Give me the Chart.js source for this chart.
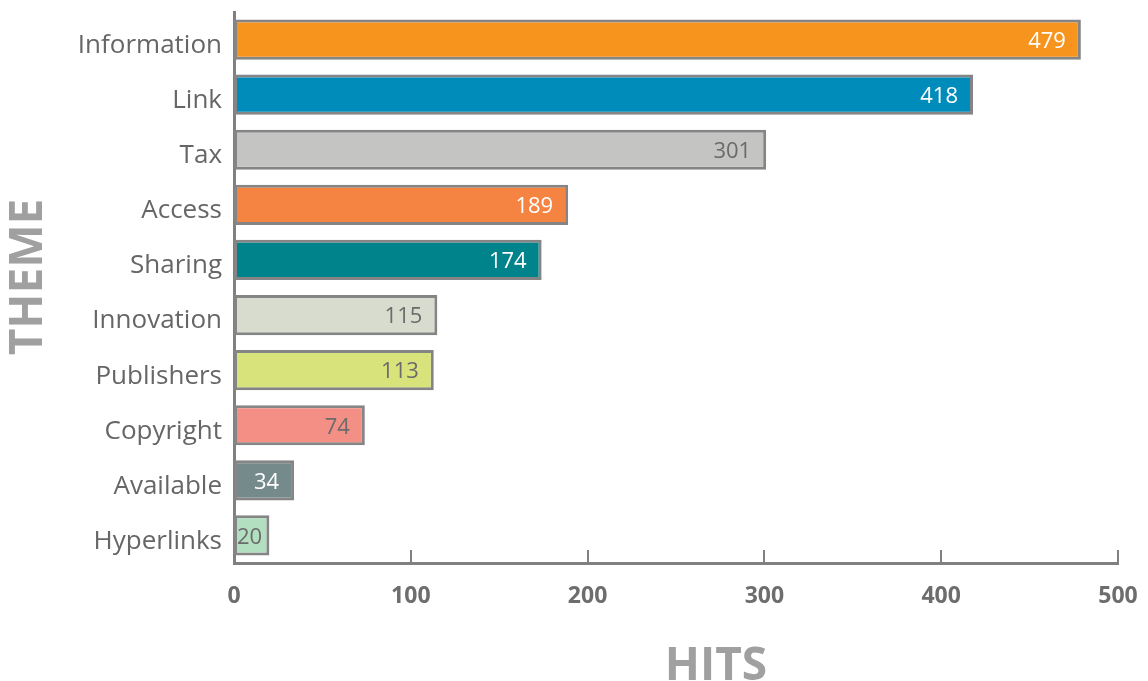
<!DOCTYPE html>
<html>
<head>
<meta charset="utf-8">
<script src="https://cdn.jsdelivr.net/npm/chart.js@4/dist/chart.umd.min.js"></script>
<style>
html,body{margin:0;padding:0;background:#fff;}
#wrap{width:1148px;height:681px;position:relative;}
</style>
</head>
<body>
<div id="wrap"><canvas id="c" width="1148" height="681"></canvas></div>
<script>
const categories = ["Information","Link","Tax","Access","Sharing","Innovation","Publishers","Copyright","Available","Hyperlinks"];
const hits = [479,418,301,189,174,115,113,74,34,20];
const barColors = ["#F7941D","#008CBA","#C4C4C2","#F58442","#00838A","#D8DCCF","#D8E47B","#F48F85","#758A8A","#B3DFC1"];
const labelColors = ["#ffffff","#ffffff","#6b6b6b","#ffffff","#ffffff","#6b6b6b","#6b6b6b","#6b6b6b","#ffffff","#6b6b6b"];
const xTitle = "HITS";
const yTitle = "THEME";

const FONT = "'Open Sans', 'Noto Sans', sans-serif";

const innerTicks = {
  id: 'innerTicks',
  afterDatasetsDraw(chart) {
    const ctx = chart.ctx, xs = chart.scales.x, area = chart.chartArea;
    ctx.save();
    ctx.strokeStyle = '#808080';
    ctx.lineWidth = 2;
    xs.ticks.forEach(t => {
      if (t.value === 0) return;
      const px = Math.round(xs.getPixelForValue(t.value));
      ctx.beginPath();
      ctx.moveTo(px, area.bottom - 13);
      ctx.lineTo(px, area.bottom);
      ctx.stroke();
    });
    ctx.restore();
  }
};

const valueLabels = {
  id: 'valueLabels',
  afterDatasetsDraw(chart) {
    const ctx = chart.ctx;
    const meta = chart.getDatasetMeta(0);
    ctx.save();
    ctx.font = "22px " + FONT;
    ctx.textAlign = 'right';
    ctx.textBaseline = 'middle';
    meta.data.forEach((bar, i) => {
      const txt = String(hits[i]);
      const w = ctx.measureText(txt).width;
      let x = bar.x - 15;
      if (x - w < bar.base + 3) x = bar.base + 3 + w;
      ctx.fillStyle = labelColors[i];
      ctx.fillText(txt, x, bar.y + 2);
    });
    ctx.restore();
  }
};

const axisTitles = {
  id: 'axisTitles',
  afterDraw(chart) {
    const ctx = chart.ctx, area = chart.chartArea;
    ctx.save();
    ctx.fillStyle = '#a0a0a0';
    ctx.font = "bold 46px " + FONT;
    ctx.textAlign = 'center';
    ctx.textBaseline = 'middle';
    ctx.fillText(xTitle, area.left + 482, 667);
    ctx.translate(29, area.top + 265);
    ctx.rotate(-Math.PI / 2);
    ctx.fillText(yTitle, 0, 0);
    ctx.restore();
  }
};

new Chart(document.getElementById('c'), {
  type: 'bar',
  data: {
    labels: categories,
    datasets: [{
      data: hits,
      backgroundColor: barColors,
      borderColor: '#858585',
      borderWidth: 3,
      borderSkipped: false,
      categoryPercentage: 1.0,
      barPercentage: 0.73
    }]
  },
  options: {
    indexAxis: 'y',
    responsive: false,
    animation: false,
    devicePixelRatio: 1,
    layout: { padding: { top: 12, right: 30, left: 0, bottom: 0 } },
    plugins: { legend: { display: false }, tooltip: { enabled: false } },
    scales: {
      x: {
        min: 0, max: 500,
        ticks: { stepSize: 100, color: '#6d6d6d', font: { family: FONT, size: 23, weight: 'bold' }, padding: 20 },
        grid: { display: false, drawTicks: false },
        border: { display: true, color: '#808080', width: 3 },
        afterFit(s) { s.height = 118; s.paddingLeft = 0; s.paddingRight = 0; }
      },
      y: {
        ticks: { color: '#666666', font: { family: FONT, size: 26 }, padding: 12, labelOffset: 6 },
        grid: { display: false, drawTicks: false },
        border: { display: true, color: '#808080', width: 3 },
        afterFit(s) { s.width = 234; s.paddingTop = 0; s.paddingBottom = 0; }
      }
    }
  },
  plugins: [innerTicks, valueLabels, axisTitles]
});
</script>
</body>
</html>
